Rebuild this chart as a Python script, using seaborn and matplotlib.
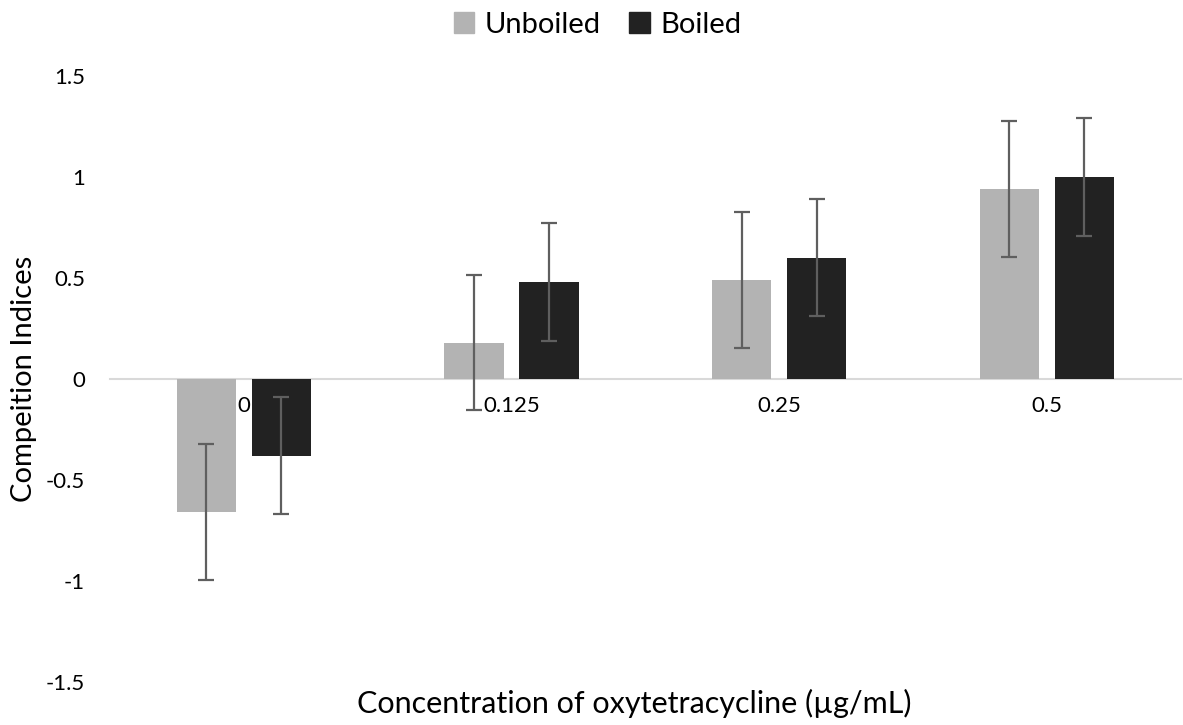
import matplotlib
matplotlib.use("Agg")
import matplotlib.pyplot as plt
import seaborn as sns
import pandas as pd

# ---- data ----
concentrations = ["0", "0.125", "0.25", "0.5"]
unboiled = [-0.66, 0.18, 0.49, 0.94]
unboiled_err = [0.336, 0.336, 0.336, 0.336]
boiled = [-0.38, 0.48, 0.60, 1.00]
boiled_err = [0.29, 0.29, 0.29, 0.29]
series = ["Unboiled", "Boiled"]
y_ticks = [-1.5, -1, -0.5, 0, 0.5, 1, 1.5]
y_tick_labels = ["-1.5", "-1", "-0.5", "0", "0.5", "1", "1.5"]

df = pd.DataFrame({
    "conc": concentrations * 2,
    "value": unboiled + boiled,
    "series": ["Unboiled"] * 4 + ["Boiled"] * 4,
})
errs = {"Unboiled": unboiled_err, "Boiled": boiled_err}
colors = {"Unboiled": "#b3b3b3", "Boiled": "#222222"}

sns.set_theme(style="white")
plt.rcParams["font.family"] = ["Lato", "DejaVu Sans"]
plt.rcParams["text.color"] = "#000000"
plt.rcParams["axes.labelcolor"] = "#000000"

fig = plt.figure(figsize=(11.83, 7.25), dpi=100)
ax = fig.add_axes([0.093, 0.0593, 0.905, 0.836])

sns.barplot(data=df, x="conc", y="value", hue="series", order=concentrations,
            hue_order=series, palette=colors, width=0.56, gap=0.21,
            errorbar=None, linewidth=0, ax=ax, legend=True)

for cont, name in zip(ax.containers, series):
    xs = [b.get_x() + b.get_width() / 2 for b in cont]
    ys = list(df[df.series == name]["value"])
    ax.errorbar(xs, ys, yerr=errs[name], fmt="none", ecolor="#5f5f5f",
                elinewidth=1.6, capsize=6, capthick=1.6, zorder=5)

ax.set_ylim(-1.5, 1.5)
ax.set_xlim(-0.5, 3.5)
ax.set_yticks(y_ticks)
ax.set_yticklabels(y_tick_labels)
for s in ["top", "right", "left"]:
    ax.spines[s].set_visible(False)
ax.spines["bottom"].set_position(("data", 0))
ax.spines["bottom"].set_color("#d9d9d9")
ax.spines["bottom"].set_linewidth(1.5)
ax.spines["bottom"].set_zorder(0.5)
ax.tick_params(axis="x", length=0, pad=12, labelsize=16, labelcolor="#000000")
ax.tick_params(axis="y", length=0, pad=18, labelsize=16, labelcolor="#000000")

ax.set_ylabel("Compeition Indices", fontsize=21, color="#000000")
ax.yaxis.set_label_coords(-0.068, 0.5)
ax.set_xlabel("")
fig.text(0.536, 0.030, "Concentration of oxytetracycline (µg/mL)", ha="center", va="center",
         fontsize=22, color="#000000")

ax.get_legend().remove()
handles = [plt.Rectangle((0, 0), 1, 1, color=colors[s]) for s in series]
fig.legend(handles, series, loc="upper center", bbox_to_anchor=(0.505, 1.02), ncol=2,
           frameon=False, fontsize=21, handlelength=0.7, handleheight=0.7,
           handletextpad=0.35, columnspacing=1.0)

fig.savefig("out.png", dpi=100)
